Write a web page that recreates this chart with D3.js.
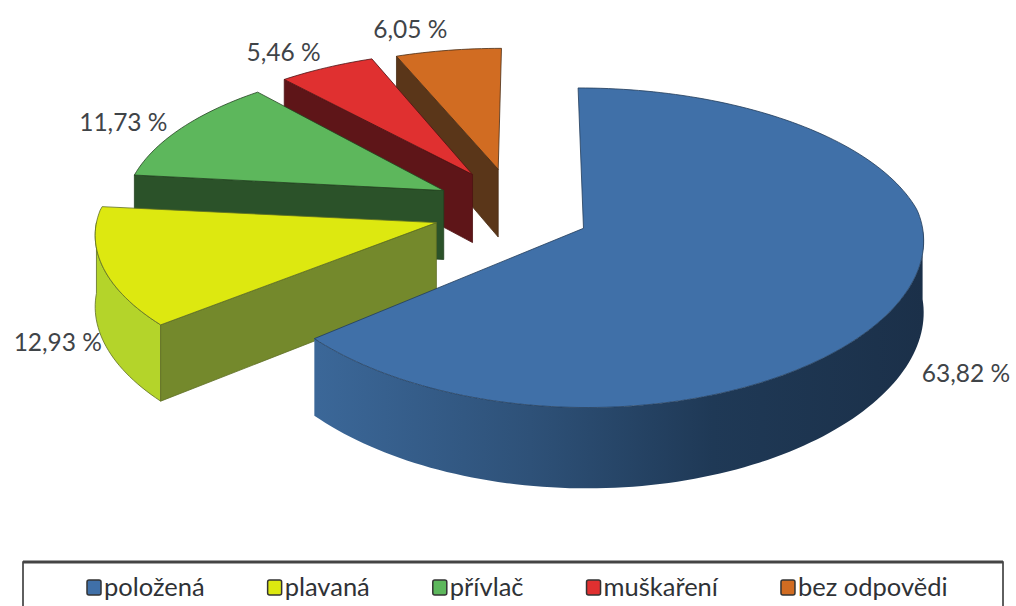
<!DOCTYPE html>
<html>
<head>
<meta charset="utf-8">
<script src="https://cdn.jsdelivr.net/npm/d3@7"></script>
<style>
  html, body { margin: 0; padding: 0; background: #fff; overflow: hidden; }
  text { font-family: Lato, "Open Sans", sans-serif; }
</style>
</head>
<body>
<script>
// exploded 3d pie of fishing methods

var categories = ['položená', 'plavaná', 'přívlač', 'muškaření', 'bez odpovědi'];
var values = [63.82, 12.93, 11.73, 5.46, 6.05];
var valueLabels = ['63,82 %', '12,93 %', '11,73 %', '5,46 %', '6,05 %'];

var topColors = ['#4070a8', '#dde810', '#5db75c', '#e03030', '#d16c22'];
var cutColors = ['#2a4a70', '#74892c', '#2b5229', '#5e1518', '#5a3619'];
var rimColors = ['#3a6597', '#b4d42a', '#2b5229', '#5e1518', '#5a3619'];

var width = 1016, height = 606;

// projection settings: plane radius -> screen, with some perspective
var originX = 512, originY = 210,
    radiusX = 338, radiusY = 153,
    perspBack = 0.12, perspFront = 0.07, perspY = 0.12,
    shear = -2,
    depth = 70,
    explodeX = 0.232, explodeY = 0.28;

// the slices in the picture are not quite the same size
var scaleX = [0.995, 1.0, 0.95, 0.96, 0.95];
var scaleY = [1, 0.94, 0.96, 0.95, 0.935];

// label shift from the rim middle of each slice
var labelShift = [[64, 74], [-45, 75], [-58, -7], [-43, -16], [-38, -22]];

function project(x, y, z) {
  var sx = 1 / (1 - (y < 0 ? perspBack : perspFront) * y), sy = 1 / (1 - perspY * y);
  return [originX + radiusX * x * sx + shear * y, originY + (radiusY * y + depth * z) * sy];
}

var svg = d3.select('body').append('svg')
  .attr('width', width)
  .attr('height', height)
  .style('display', 'block');

var pie = d3.pie().sort(null);
var slices = pie(values);

// point of slice d, r = 0 apex, r = 1 rim
function pt(d, angle, r, z) {
  var mid = (d.startAngle + d.endAngle) / 2;
  var x = explodeX * Math.sin(mid) + r * scaleX[d.index] * Math.sin(angle);
  var y = -explodeY * Math.cos(mid) - r * scaleY[d.index] * Math.cos(angle);
  return project(x, y, z);
}

function rimPoints(d, z, a0, a1) {
  var n = Math.ceil((a1 - a0) * 40);
  var angle = d3.scaleLinear().domain([0, n]).range([a0, a1]);
  return d3.range(n + 1).map(function (i) { return pt(d, angle(i), 1, z); });
}

var line = d3.line();

var defs = svg.append('defs');
var blueGrad = defs.append('linearGradient')
  .attr('id', 'blueRim')
  .attr('gradientUnits', 'userSpaceOnUse')
  .attr('x1', 318).attr('x2', 925).attr('y1', 0).attr('y2', 0);
blueGrad.append('stop').attr('offset', '0').attr('stop-color', '#3b6798');
blueGrad.append('stop').attr('offset', '0.35').attr('stop-color', '#2e5178');
blueGrad.append('stop').attr('offset', '0.65').attr('stop-color', '#1f3956');
blueGrad.append('stop').attr('offset', '1').attr('stop-color', '#1b3049');

// back to front
var order = [4, 3, 2, 1, 0];

var groups = svg.selectAll('g.slice')
  .data(order.map(function (i) { return slices[i]; }))
  .enter().append('g')
  .attr('class', 'slice');

groups.each(function (d) {
  var g = d3.select(this), i = d.index;
  var strokeC = d3.color(cutColors[i]).darker(0.6);

  // outer wall, only the front half of the rim can be seen
  var a0 = Math.max(d.startAngle, Math.PI / 2), a1 = Math.min(d.endAngle, Math.PI * 1.5);
  if (a1 > a0) {
    g.append('path')
      .attr('d', line(rimPoints(d, 0, a0, a1).concat(rimPoints(d, 1, a0, a1).reverse())) + 'Z')
      .attr('fill', i === 0 ? 'url(#blueRim)' : rimColors[i])
      .attr('stroke', i === 0 ? 'none' : strokeC)
      .attr('stroke-width', 0.8);
  }

  // only the start cut faces the viewer, blue shows none
  if (i > 0) {
    var a = d.startAngle;
    g.append('path')
      .attr('d', line([pt(d, a, 0, 0), pt(d, a, 1, 0), pt(d, a, 1, 1), pt(d, a, 0, 1)]) + 'Z')
      .attr('fill', cutColors[i])
      .attr('stroke', strokeC)
      .attr('stroke-width', 0.8);
  }

  // top face
  g.append('path')
    .attr('d', line([pt(d, d.startAngle, 0, 0)].concat(rimPoints(d, 0, d.startAngle, d.endAngle))) + 'Z')
    .attr('fill', topColors[i])
    .attr('stroke', strokeC)
    .attr('stroke-width', 0.8);
});

// value labels
svg.selectAll('text.value')
  .data(slices)
  .enter().append('text')
  .attr('class', 'value')
  .attr('x', function (d) { return pt(d, (d.startAngle + d.endAngle) / 2, 1, 0)[0] + labelShift[d.index][0]; })
  .attr('y', function (d) { return pt(d, (d.startAngle + d.endAngle) / 2, 1, 0)[1] + labelShift[d.index][1]; })
  .attr('text-anchor', 'middle')
  .attr('dominant-baseline', 'central')
  .attr('font-size', 24.5)
  .attr('fill', '#3f4448')
  .text(function (d) { return valueLabels[d.index]; });

// legend box, runs off the bottom of the picture
svg.append('rect')
  .attr('x', 23).attr('y', 562)
  .attr('width', 980).attr('height', 60)
  .attr('fill', '#fff')
  .attr('stroke', '#2b2b2b')
  .attr('stroke-width', 1.5);
svg.append('line')
  .attr('x1', 23).attr('x2', 1003)
  .attr('y1', 562).attr('y2', 562)
  .attr('stroke', '#444')
  .attr('stroke-width', 3);

var legendX = 87;
categories.forEach(function (c, i) {
  svg.append('rect')
    .attr('x', legendX).attr('y', 580)
    .attr('width', 14).attr('height', 15)
    .attr('rx', 2)
    .attr('fill', topColors[i])
    .attr('stroke', '#333')
    .attr('stroke-width', 1.5);
  var t = svg.append('text')
    .attr('x', legendX + 17).attr('y', 596)
    .attr('font-size', 25.5)
    .attr('fill', '#2f3236')
    .text(c);
  legendX += 17 + t.node().getComputedTextLength() + 63;
});
</script>
</body>
</html>
